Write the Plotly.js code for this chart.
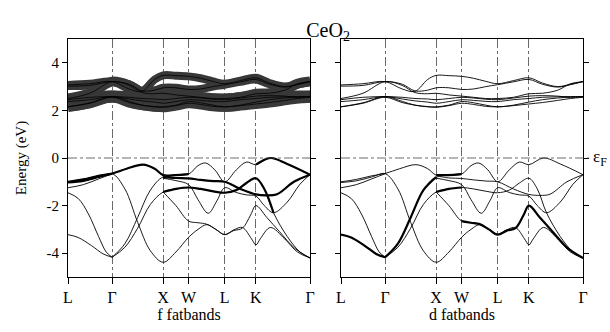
<!DOCTYPE html>
<html><head><meta charset="utf-8">
<script src="https://cdn.plot.ly/plotly-3.0.1.min.js"></script>
<style>html,body{margin:0;padding:0;background:#fff}#chart{width:610px;height:332px}</style>
</head><body><div id="chart"></div>
<script>
// high-symmetry path
const kTicks = [0, 0.866, 1.866, 2.366, 3.073, 3.685, 4.746];
const kLabels = ['L', 'Γ', 'X', 'W', 'L', 'K', 'Γ'];
const yTicks = [-4, -2, 0, 2, 4];
const yLabels = ['-4', '-2', '0', '2', '4'];

// Ce 4f bands (conduction)
const fK = [0, 0.43, 0.866, 1.2, 1.45, 1.7, 1.866, 2.116, 2.366, 2.6, 2.84, 3.073, 3.38, 3.685, 3.95, 4.25, 4.5, 4.746];
const f1 = [3.07, 3.12, 3.21, 2.9, 2.8, 3.3, 3.47, 3.46, 3.43, 3.35, 3.22, 3.12, 3.25, 3.37, 3.15, 3.0, 3.1, 3.21];
const f2 = [3.02, 3.05, 3.21, 3.1, 2.82, 2.85, 2.95, 2.95, 2.88, 2.9, 3.0, 3.08, 3.2, 3.3, 3.1, 2.98, 3.08, 3.21];
const f3 = [2.5, 2.72, 3.21, 3.05, 2.75, 2.7, 2.72, 2.65, 2.6, 2.55, 2.5, 2.5, 2.55, 2.7, 2.72, 2.85, 3.12, 3.21];
const f4 = [2.45, 2.55, 2.58, 2.55, 2.5, 2.48, 2.45, 2.5, 2.55, 2.52, 2.47, 2.45, 2.52, 2.6, 2.62, 2.6, 2.55, 2.58];
const f5 = [2.37, 2.45, 2.58, 2.48, 2.4, 2.35, 2.3, 2.37, 2.45, 2.42, 2.38, 2.37, 2.45, 2.5, 2.55, 2.57, 2.58, 2.58];
const f6 = [2.15, 2.32, 2.58, 2.38, 2.22, 2.15, 2.15, 2.22, 2.37, 2.32, 2.22, 2.15, 2.22, 2.35, 2.45, 2.52, 2.56, 2.58];
const f7 = [2.15, 2.3, 2.55, 2.33, 2.22, 2.16, 2.13, 2.2, 2.3, 2.25, 2.17, 2.15, 2.2, 2.27, 2.33, 2.42, 2.5, 2.55];

// O 2p valence bands (pieces)
const v1K = [0, 0.3, 0.6, 0.866, 1.15, 1.47, 1.7, 1.866, 2.1, 2.366, 2.55, 2.7, 2.88, 3.073, 3.3, 3.5, 3.685, 3.97, 4.3, 4.746];
const v1E = [-1.0, -0.9, -0.75, -0.65, -0.45, -0.28, -0.45, -0.72, -0.72, -0.68, -0.32, -0.21, -0.5, -1.0, -0.5, -0.17, -0.28, 0.0, -0.25, -0.7];
const v2K = [0, 0.3, 0.6, 0.866, 1.116, 1.366, 1.616, 1.866, 2.116, 2.366, 2.55, 2.72, 2.9, 3.073, 3.25, 3.42, 3.6, 3.685, 3.77, 3.97, 4.25, 4.5, 4.746];
const v2E = [-1.03, -0.96, -0.8, -0.66, -1.3, -2.7, -3.9, -4.38, -3.95, -3.33, -3.0, -2.8, -3.0, -3.22, -3.02, -2.92, -3.4, -3.65, -3.4, -2.92, -3.4, -3.95, -4.2];
const v3K = [0, 0.3, 0.6, 0.866];
const v3E = [-1.25, -1.12, -0.88, -0.66];
const v4K = [0, 0.2, 0.4, 0.6, 0.75, 0.866];
const v4E = [-1.46, -1.7, -2.35, -3.3, -3.95, -4.17];
const v5K = [0, 0.2, 0.46, 0.69, 0.866];
const v5E = [-3.22, -3.34, -3.68, -4.03, -4.17];
const v6K = [0.866, 1.116, 1.366, 1.616, 1.866, 2.116, 2.366, 2.6, 2.85, 3.073, 3.38, 3.685, 3.9, 4.1, 4.43, 4.746];
const v6E = [-4.17, -3.6, -2.5, -1.35, -0.8, -0.84, -0.86, -0.92, -0.97, -1.0, -1.3, -1.53, -1.57, -1.52, -1.0, -0.7];
const v7K = [0.866, 1.116, 1.366, 1.616, 1.866, 2.116, 2.366, 2.6, 2.85, 3.073, 3.3, 3.5, 3.685, 3.85, 4.03, 4.3, 4.55, 4.746];
const v7E = [-4.17, -3.75, -2.95, -1.95, -1.43, -1.3, -1.24, -1.3, -1.4, -1.46, -1.35, -1.05, -0.85, -1.3, -2.3, -3.3, -3.95, -4.2];
const v8K = [1.866, 2.116, 2.366, 2.55, 2.72, 2.9, 3.073, 3.25, 3.42, 3.58, 3.685, 3.9, 4.15, 4.45, 4.746];
const v8E = [-1.43, -2.0, -2.65, -2.72, -2.78, -3.0, -3.22, -3.05, -2.95, -2.4, -2.0, -2.5, -3.1, -3.8, -4.2];
const v9K = [1.866, 2.116, 2.366, 2.55, 2.75, 2.92, 3.073, 3.3, 3.5, 3.685, 3.85, 4.03, 4.3, 4.55, 4.746];
const v9E = [-0.85, -0.95, -1.12, -1.75, -2.32, -1.8, -1.25, -1.45, -1.55, -1.6, -2.0, -2.3, -1.85, -1.1, -0.7];

const fBands = [f1, f2, f3, f4, f5, f6, f7];
const fatWidth = [8, 8, 10, 12, 12, 10, 10];
const valence = [[v1K, v1E], [v2K, v2E], [v3K, v3E], [v4K, v4E], [v5K, v5E], [v6K, v6E], [v7K, v7E], [v8K, v8E], [v9K, v9E]];
// index ranges drawn heavy (character weight) in each panel
const heavyF = {0: [[0, 9], [16, 19]], 1: [[0, 3]], 5: [[4, 15]], 6: [[4, 14]]};
const heavyD = {0: [[7, 9]], 4: [[0, 4]], 5: [[0, 4]], 6: [[4, 6]], 7: [[2, 14]]};

const traces = [];
function addLine(k, e, panel, width, color) {
  traces.push({
    x: k, y: e, xaxis: panel === 1 ? 'x' : 'x2', yaxis: panel === 1 ? 'y' : 'y2',
    mode: 'lines', hoverinfo: 'skip', showlegend: false,
    line: {color: color || '#000', width: width, shape: 'spline', smoothing: 1}
  });
}
// fat f bands in left panel
fBands.forEach((b, i) => addLine(fK, b, 1, fatWidth[i], '#383838'));
fBands.forEach(b => addLine(fK, b, 1, 0.8, '#000'));
// thin f bands in right panel
fBands.forEach(b => addLine(fK, b, 2, 0.9, '#000'));
// valence
valence.forEach((v, i) => {
  addLine(v[0], v[1], 1, 0.9);
  addLine(v[0], v[1], 2, 0.9);
  (heavyF[i] || []).forEach(r => addLine(v[0].slice(r[0], r[1] + 1), v[1].slice(r[0], r[1] + 1), 1, 2.2));
  (heavyD[i] || []).forEach(r => addLine(v[0].slice(r[0], r[1] + 1), v[1].slice(r[0], r[1] + 1), 2, 2.2));
});

const fontFam = 'Liberation Serif, Times New Roman, serif';
function xax(dom, anchor, title) {
  return {
    domain: dom, anchor: anchor, range: [0, 4.746], tickvals: kTicks, ticktext: kLabels,
    ticks: 'outside', ticklen: 6, tickcolor: '#000', tickwidth: 1,
    showline: true, linecolor: '#000', linewidth: 1, mirror: true,
    showgrid: true, gridcolor: '#444', griddash: 'dashdot', gridwidth: 0.8, zeroline: false,
    tickfont: {size: 16, color: '#000'},
    title: {text: title, font: {size: 16, color: '#000'}, standoff: 2}
  };
}
function yax(anchor, labels, title) {
  return {
    anchor: anchor, range: [-5, 5], tickvals: yTicks, ticktext: yLabels, showticklabels: labels,
    ticks: 'outside', ticklen: 5, tickcolor: '#000', showline: true, linecolor: '#000', linewidth: 1,
    mirror: 'ticks', showgrid: false, zeroline: false, tickfont: {size: 15, color: '#000'},
    title: title ? {text: title, font: {size: 15, color: '#000'}, standoff: 16} : undefined
  };
}

const layout = {
  width: 610, height: 332, margin: {l: 68, r: 27, t: 39, b: 55},
  paper_bgcolor: '#fff', plot_bgcolor: '#fff',
  font: {family: fontFam, color: '#000'},
  title: {text: 'CeO<sub>2</sub>', x: 0.505, xref: 'paper', xanchor: 'center', y: 0.91, yref: 'container', yanchor: 'middle', font: {size: 20}},
  xaxis: xax([0, 0.4699], 'y', 'f fatbands'),
  xaxis2: xax([0.5301, 1], 'y2', 'd fatbands'),
  yaxis: yax('x', true, 'Energy (eV)'),
  yaxis2: yax('x2', false, null),
  shapes: [
    {type: 'line', xref: 'x', yref: 'y', x0: 0, x1: 4.746, y0: 0, y1: 0, line: {color: '#444', width: 0.8, dash: 'dashdot'}},
    {type: 'line', xref: 'paper', yref: 'y2', x0: 0.5301, x1: 1.012, y0: 0, y1: 0, line: {color: '#444', width: 0.8, dash: 'dashdot'}}
  ],
  annotations: [
    {text: 'ε<sub>F</sub>', xref: 'paper', yref: 'y2', x: 1.015, y: 0, xanchor: 'left', yanchor: 'middle', showarrow: false, font: {size: 17}}
  ]
};
Plotly.newPlot('chart', traces, layout, {staticPlot: true, displayModeBar: false});
</script></body></html>
